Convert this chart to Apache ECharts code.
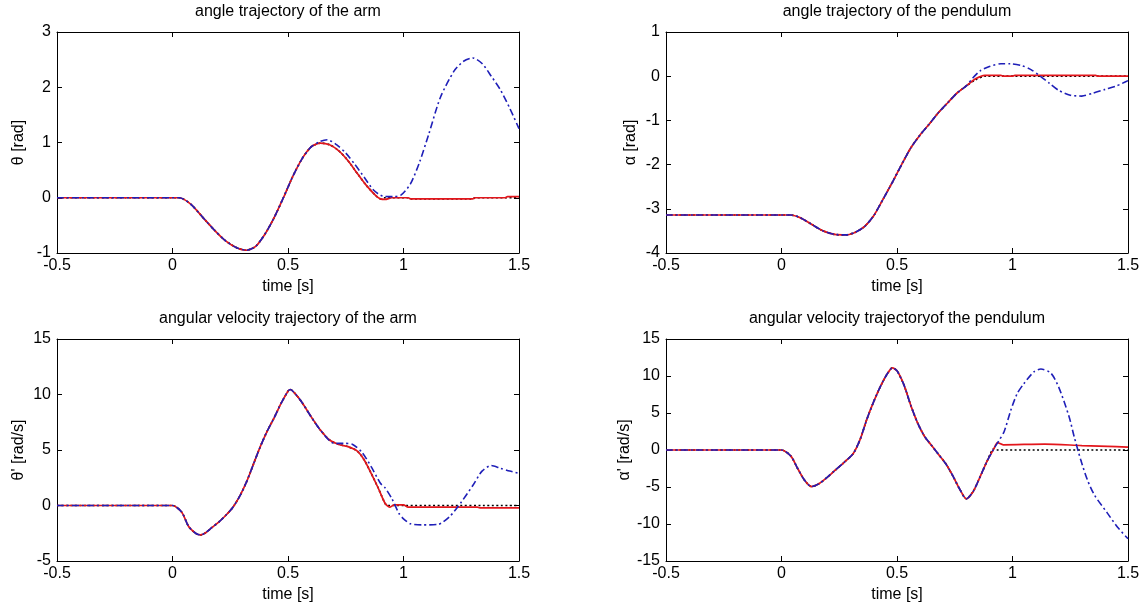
<!DOCTYPE html>
<html>
<head>
<meta charset="utf-8">
<script src="https://cdn.jsdelivr.net/npm/echarts@6/dist/echarts.min.js"></script>
<style>
  html, body { margin: 0; padding: 0; background: #fff; }
  #chart { width: 1144px; height: 609px; }
</style>
</head>
<body>
<div id="chart"></div>
<script>
// ---- time axis (shared by all four panels) ----
const timeTicks = [-0.5, 0, 0.5, 1, 1.5];

// ---- panel 1: arm angle θ [rad] ----
const armAngleTicks = [-1, 0, 1, 2, 3];
const armAngleLead = [[-0.5,0],[0.03,0],[0.08,-0.12],[0.13,-0.35],[0.18,-0.58],[0.23,-0.78],[0.28,-0.91],[0.32,-0.95],[0.36,-0.88],[0.40,-0.66],[0.44,-0.36],[0.48,0.0],[0.52,0.38],[0.56,0.7],[0.60,0.92]];
const armAngleMid = [[0.64,0.99],[0.68,0.96],[0.72,0.85],[0.76,0.67],[0.80,0.44],[0.84,0.22],[0.88,0.04],[0.90,-0.02]];
const armAngleRefTail = [[0.92,0.0],[1.02,0.0],[1.03,-0.02],[1.30,-0.02],[1.31,0.0],[1.5,0.0]];
const armAngleCtrlTail = [[0.92,-0.03],[0.95,0.0],[1.02,0.0],[1.03,-0.02],[1.30,-0.02],[1.31,0.0],[1.44,0.0],[1.45,0.02],[1.5,0.02]];
const armAngleAltTail = [[0.64,1.02],[0.67,1.05],[0.71,0.96],[0.75,0.81],[0.79,0.6],[0.83,0.37],[0.87,0.14],[0.91,0.03],[0.96,0.02],[0.99,0.05],[1.03,0.25],[1.07,0.65],[1.11,1.16],[1.16,1.82],[1.22,2.3],[1.26,2.47],[1.30,2.53],[1.34,2.43],[1.38,2.2],[1.42,1.95],[1.46,1.62],[1.5,1.25]];

// ---- panel 2: pendulum angle α [rad] ----
const pendAngleTicks = [-4, -3, -2, -1, 0, 1];
const pendAngleLead = [[-0.5,-3.14],[0.04,-3.14],[0.08,-3.2],[0.13,-3.35],[0.18,-3.5],[0.23,-3.58],[0.28,-3.59],[0.32,-3.53],[0.36,-3.4],[0.40,-3.15],[0.44,-2.78],[0.48,-2.4],[0.52,-2.0],[0.56,-1.62],[0.60,-1.33],[0.64,-1.08],[0.68,-0.82],[0.72,-0.6],[0.76,-0.38],[0.80,-0.22]];
const pendAngleRefTail = [[0.84,-0.08],[0.88,0.0],[1.5,0.0]];
const pendAngleCtrlTail = [[0.84,-0.06],[0.88,0.02],[0.95,0.02],[0.96,0.0],[1.0,0.0],[1.01,0.02],[1.36,0.02],[1.37,0.0],[1.5,0.0]];
const pendAngleAltTail = [[0.83,-0.03],[0.86,0.12],[0.90,0.22],[0.95,0.28],[0.99,0.28],[1.04,0.24],[1.08,0.15],[1.12,0.0],[1.16,-0.16],[1.20,-0.32],[1.25,-0.43],[1.30,-0.45],[1.35,-0.38],[1.40,-0.3],[1.45,-0.22],[1.5,-0.1]];

// ---- panel 3: arm angular velocity θ' [rad/s] ----
const armRateTicks = [-5, 0, 5, 10, 15];
const armRateLead = [[-0.5,0],[0,0],[0.04,-0.6],[0.07,-1.9],[0.10,-2.5],[0.12,-2.65],[0.14,-2.5],[0.17,-2.0],[0.20,-1.5],[0.23,-0.9],[0.26,-0.2],[0.29,0.8],[0.32,2.1],[0.35,3.7],[0.38,5.3],[0.41,6.7],[0.44,7.9],[0.47,9.2],[0.50,10.3],[0.51,10.45],[0.53,10.1],[0.56,9.3],[0.60,8.0],[0.64,6.8],[0.68,5.9]];
const armRateMid = [[0.72,5.5],[0.76,5.3],[0.80,4.9],[0.83,4.1],[0.86,2.9],[0.89,1.6],[0.92,0.2]];
const armRateRefTail = [[0.93,0.0],[1.5,0.0]];
const armRateCtrlTail = [[0.94,-0.15],[0.96,0.05],[1.0,0.05],[1.02,-0.15],[1.32,-0.15],[1.33,-0.22],[1.5,-0.22]];
const armRateAltTail = [[0.70,5.6],[0.74,5.6],[0.78,5.5],[0.82,4.8],[0.86,3.5],[0.90,2.0],[0.92,1.6],[0.95,0.6],[0.98,-0.7],[1.0,-1.2],[1.03,-1.65],[1.08,-1.75],[1.15,-1.7],[1.20,-1.0],[1.25,0.3],[1.30,1.8],[1.34,3.1],[1.38,3.6],[1.42,3.35],[1.46,3.1],[1.5,2.9]];

// ---- panel 4: pendulum angular velocity α' [rad/s] ----
const pendRateTicks = [-15, -10, -5, 0, 5, 10, 15];
const pendRateLead = [[-0.5,0],[0,0],[0.04,-0.8],[0.07,-2.5],[0.10,-4.1],[0.13,-4.95],[0.16,-4.6],[0.19,-3.9],[0.23,-2.8],[0.27,-1.7],[0.31,-0.5],[0.34,1.4],[0.37,4.2],[0.40,6.6],[0.43,8.7],[0.46,10.4],[0.48,11.1],[0.50,10.7],[0.53,8.8],[0.56,6.0],[0.59,3.6],[0.62,1.8],[0.65,0.6],[0.68,-0.6],[0.71,-1.8],[0.74,-3.4],[0.77,-5.2],[0.80,-6.6],[0.83,-5.6],[0.86,-3.6],[0.89,-1.5],[0.92,0.2]];
const pendRateRefTail = [[0.93,0.0],[1.5,0.0]];
const pendRateCtrlTail = [[0.935,1.0],[0.96,0.7],[1.14,0.8],[1.30,0.6],[1.45,0.45],[1.5,0.4]];
const pendRateAltTail = [[0.94,1.2],[0.964,2.5],[0.993,5.4],[1.02,7.6],[1.05,9.0],[1.094,10.6],[1.123,10.95],[1.166,10.4],[1.20,8.5],[1.245,4.5],[1.267,1.8],[1.296,-1.4],[1.325,-4.1],[1.355,-6.1],[1.41,-8.5],[1.454,-10.4],[1.5,-12.0]];

// ---- panel titles and axis names ----
const panelTitles = ['angle trajectory of the arm', 'angle trajectory of the pendulum',
                     'angular velocity trajectory of the arm', 'angular velocity trajectoryof the pendulum'];
const yNames = ['θ [rad]', 'α [rad]', "θ' [rad/s]", "α' [rad/s]"];
const xName = 'time [s]';

const FONT = "'Liberation Sans', Arial, Helvetica, sans-serif";

// layout of the four plot boxes
const boxes = [
  { left: 57, top: 32, width: 462, height: 221, nameGap: 30 },
  { left: 666, top: 32, width: 462, height: 221, nameGap: 27 },
  { left: 57, top: 339, width: 462, height: 222, nameGap: 30 },
  { left: 666, top: 339, width: 462, height: 222, nameGap: 33 }
];
const yTickSets = [armAngleTicks, pendAngleTicks, armRateTicks, pendRateTicks];

const panels = [
  { ref: armAngleLead.concat(armAngleMid, armAngleRefTail),
    ctrl: armAngleLead.concat(armAngleMid, armAngleCtrlTail),
    alt: armAngleLead.concat(armAngleAltTail) },
  { ref: pendAngleLead.concat(pendAngleRefTail),
    ctrl: pendAngleLead.concat(pendAngleCtrlTail),
    alt: pendAngleLead.concat(pendAngleAltTail) },
  { ref: armRateLead.concat(armRateMid, armRateRefTail),
    ctrl: armRateLead.concat(armRateMid, armRateCtrlTail),
    alt: armRateLead.slice(0, -1).concat(armRateAltTail) },
  { ref: pendRateLead.concat(pendRateRefTail),
    ctrl: pendRateLead.concat(pendRateCtrlTail),
    alt: pendRateLead.concat(pendRateAltTail) }
];

const axisLine = { show: true, onZero: false, lineStyle: { color: '#000', width: 1 } };
const tickIn = { show: true, inside: true, length: 5, lineStyle: { color: '#000', width: 1 } };
const labelStyle = { color: '#000', fontFamily: FONT, fontSize: 16 };

const grid = [], xAxis = [], yAxis = [], title = [], series = [];

boxes.forEach((b, i) => {
  grid.push({ left: b.left, top: b.top, width: b.width, height: b.height, containLabel: false });
  title.push({
    text: panelTitles[i], left: b.left + b.width / 2, top: b.top - 28, textAlign: 'center', padding: 0,
    textStyle: { color: '#000', fontFamily: FONT, fontSize: 16, fontWeight: 'normal' }
  });
  const tmin = timeTicks[0], tmax = timeTicks[timeTicks.length - 1];
  const yt = yTickSets[i];
  const ymin = yt[0], ymax = yt[yt.length - 1], yint = yt[1] - yt[0];
  // bottom time axis with labels
  xAxis.push({
    type: 'value', gridIndex: i, position: 'bottom', min: tmin, max: tmax, interval: 0.5,
    axisLine, axisTick: tickIn, splitLine: { show: false },
    axisLabel: Object.assign({ margin: 5 }, labelStyle),
    name: xName, nameLocation: 'middle', nameGap: 26, nameTextStyle: labelStyle
  });
  // top edge of the box (ticks only)
  xAxis.push({
    type: 'value', gridIndex: i, position: 'top', min: tmin, max: tmax, interval: 0.5,
    axisLine, axisTick: tickIn, splitLine: { show: false }, axisLabel: { show: false }
  });
  yAxis.push({
    type: 'value', gridIndex: i, position: 'left', min: ymin, max: ymax, interval: yint,
    axisLine, axisTick: tickIn, splitLine: { show: false },
    axisLabel: Object.assign({ margin: 6 }, labelStyle),
    name: yNames[i], nameLocation: 'middle', nameGap: b.nameGap, nameTextStyle: labelStyle
  });
  yAxis.push({
    type: 'value', gridIndex: i, position: 'right', min: ymin, max: ymax, interval: yint,
    axisLine, axisTick: tickIn, splitLine: { show: false }, axisLabel: { show: false }
  });

  const p = panels[i];
  const common = { type: 'line', xAxisIndex: 2 * i, yAxisIndex: 2 * i, showSymbol: false,
                   smooth: 0.25, silent: true, animation: false };
  series.push(Object.assign({}, common, { name: 'reference', data: p.ref,
    lineStyle: { color: '#000', width: 1.7, type: [2, 2.5] } }));
  series.push(Object.assign({}, common, { name: 'controlled', data: p.ctrl,
    lineStyle: { color: '#e3161c', width: 1.7, type: 'solid' } }));
  series.push(Object.assign({}, common, { name: 'uncompensated', data: p.alt,
    lineStyle: { color: '#1f1fb8', width: 1.6, type: [7, 3, 2, 3] } }));
});

const chart = echarts.init(document.getElementById('chart'), null, { renderer: 'canvas' });
chart.setOption({
  backgroundColor: '#fff',
  animation: false,
  title, grid, xAxis, yAxis, series
});
</script>
</body>
</html>
